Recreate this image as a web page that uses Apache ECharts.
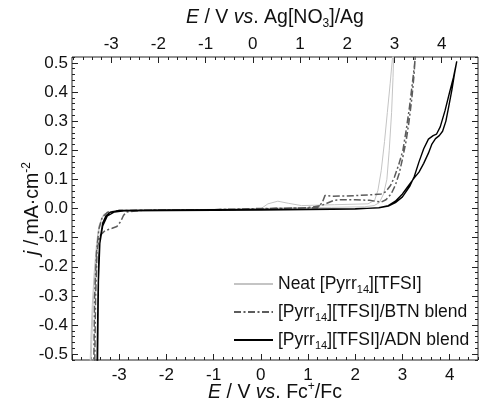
<!DOCTYPE html>
<html>
<head>
<meta charset="utf-8">
<script src="https://cdn.jsdelivr.net/npm/echarts@6/dist/echarts.min.js"></script>
<style>
html,body{margin:0;padding:0;background:#fff;}
#chart{width:481px;height:402px;}
</style>
</head>
<body>
<div id="chart"></div>
<script>
// ---------------- data ----------------
const seriesNames = ['Neat [Pyrr14][TFSI]', '[Pyrr14][TFSI]/BTN blend', '[Pyrr14][TFSI]/ADN blend'];

// Neat [Pyrr14][TFSI]  (E vs Fc+/Fc in V, j in mA/cm2)
const neatE = [-3.62,-3.60,-3.57,-3.53,-3.48,-3.43,-3.36,-3.25,-3.1,-2.5,-1.0,0.0,0.15,0.36,0.58,0.86,1.56,2.27,2.41,2.48,2.55,2.62,2.68,2.74,2.79,2.82,
  2.80,2.77,2.72,2.67,2.60,2.51,2.40,2.2,1.5,0.5,-0.5,-1.5,-2.5,-3.0,-3.2,-3.33,-3.38,-3.45,-3.5,-3.55,-3.58,-3.60];
const neatJ = [-0.55,-0.45,-0.33,-0.22,-0.12,-0.06,-0.03,-0.016,-0.01,-0.007,-0.005,-0.001,0.016,0.025,0.018,0.010,0.013,0.016,0.028,0.062,0.13,0.23,0.33,0.43,0.52,0.56,
  0.45,0.33,0.20,0.10,0.05,0.02,0.010,0.006,0.004,0.002,-0.002,-0.004,-0.006,-0.008,-0.012,-0.02,-0.04,-0.09,-0.18,-0.32,-0.45,-0.55];

// [Pyrr14][TFSI]/BTN blend
const btnE = [-3.54,-3.52,-3.48,-3.43,-3.36,-3.25,-3.0,-2.0,-1.0,0.0,1.0,1.2,1.3,1.36,1.5,1.8,2.1,2.4,2.55,2.65,2.75,2.83,2.92,3.01,3.08,3.15,3.21,3.26,3.28,
  3.24,3.20,3.14,3.08,3.00,2.93,2.85,2.76,2.65,2.55,2.30,2.00,1.70,1.55,1.40,1.28,1.0,0.0,-1.0,-2.5,-2.85,-2.91,-2.97,-3.05,-3.15,-3.30,-3.42,-3.47,-3.50,-3.52];
const btnJ = [-0.55,-0.30,-0.15,-0.07,-0.03,-0.013,-0.007,-0.005,-0.004,0.0,0.002,0.003,0.02,0.045,0.042,0.043,0.045,0.048,0.05,0.058,0.08,0.108,0.15,0.20,0.27,0.35,0.43,0.50,0.54,
  0.45,0.38,0.30,0.234,0.17,0.12,0.08,0.05,0.03,0.022,0.028,0.03,0.03,0.028,0.018,0.01,0.003,-0.002,-0.004,-0.006,-0.012,-0.024,-0.045,-0.062,-0.068,-0.076,-0.095,-0.15,-0.30,-0.55];

// [Pyrr14][TFSI]/ADN blend
const adnE = [-3.47,-3.45,-3.43,-3.40,-3.35,-3.28,-3.19,-3.0,-2.0,-1.0,0.0,1.0,2.0,2.5,2.7,2.85,3.0,3.15,3.25,3.35,3.45,3.55,3.65,3.72,3.80,3.90,4.00,4.08,4.15,
  4.10,4.05,3.98,3.92,3.85,3.78,3.70,3.62,3.55,3.45,3.35,3.25,3.10,3.00,2.85,2.70,2.50,2.0,1.0,0.0,-1.0,-2.0,-2.9,-3.1,-3.25,-3.35,-3.41,-3.44,-3.46];
const adnJ = [-0.55,-0.30,-0.16,-0.10,-0.05,-0.025,-0.013,-0.007,-0.005,-0.004,-0.003,-0.002,-0.001,0.002,0.008,0.02,0.04,0.075,0.11,0.16,0.205,0.238,0.25,0.255,0.28,0.335,0.40,0.45,0.505,
  0.46,0.41,0.35,0.30,0.265,0.25,0.24,0.22,0.19,0.155,0.125,0.105,0.072,0.05,0.025,0.01,0.003,-0.002,-0.004,-0.005,-0.006,-0.007,-0.008,-0.012,-0.025,-0.06,-0.12,-0.25,-0.55];

// tick labels
const bottomTicks = [-3,-2,-1,0,1,2,3,4];
const topTicks = [-3,-2,-1,0,1,2,3,4];
const leftTicks = [-0.5,-0.4,-0.3,-0.2,-0.1,0.0,0.1,0.2,0.3,0.4,0.5];

// ---------------- layout ----------------
const W = 481, H = 402;
const L = 72, R = 478, T = 57, B = 360;     // frame
const xMin = -4, xMax = 4.6;               // E vs Fc+/Fc
const yMin = -0.52, yMax = 0.52;
const agOffset = 0.17;                     // E(Ag) = E(Fc) + offset
const pxX = (R - L) / (xMax - xMin);
const pxY = (B - T) / (yMax - yMin);
const xPix = v => L + (v - xMin) * pxX;
const yPix = v => T + (yMax - v) * pxY;

const FONT = "'Liberation Sans', Arial, sans-serif";
const TXT = '#111';
const FS = 17;
const NFS = 19.5;

function pairs(xs, ys){ return xs.map((x,i)=>[x, ys[i]]); }
const near = (v, list) => list.some(t => Math.abs(t - v) < 1e-6);

const hidden = {axisLine:{show:false, onZero:false}, axisTick:{show:false}, axisLabel:{show:false}, splitLine:{show:false}};
const minorTick = {show:true, inside:true, length:3, lineStyle:{color:'#222', width:1}};
const majorTick = {show:true, inside:true, length:6, lineStyle:{color:'#222', width:1}};

// grid 0: data + frame + minor ticks
// grid 1: left/right major ticks
// grid 2: bottom major ticks
// grid 3: top minor ticks
// grid 4: top major ticks
const topMinorMin = -3.8, topMinorMax = 4.6;
const topMajorMin = -3, topMajorMax = 5;
const gbase = {outerBoundsMode:'none', containLabel:false};
const grids = [
  Object.assign({left:L, top:T, width:R-L, height:B-T, show:true, borderColor:'#222', borderWidth:1, backgroundColor:'transparent'}, gbase),
  Object.assign({left:L, top:yPix(0.5), width:R-L, height:yPix(-0.5)-yPix(0.5)}, gbase),
  Object.assign({left:L, top:T, width:xPix(5)-L, height:B-T}, gbase),
  Object.assign({left:xPix(topMinorMin-agOffset), top:T, width:xPix(topMinorMax-agOffset)-xPix(topMinorMin-agOffset), height:B-T}, gbase),
  Object.assign({left:xPix(topMajorMin-agOffset), top:T, width:xPix(topMajorMax-agOffset)-xPix(topMajorMin-agOffset), height:B-T}, gbase)
];

const richName = {
  i:{fontStyle:'italic', fontFamily:FONT, fontSize:NFS, color:TXT, lineHeight:24},
  n:{fontFamily:FONT, fontSize:NFS, color:TXT, lineHeight:24},
  sup:{fontFamily:FONT, fontSize:12, color:TXT, verticalAlign:'top', lineHeight:13},
  sub:{fontFamily:FONT, fontSize:12, color:TXT, verticalAlign:'bottom', lineHeight:13}
};

const xAxes = [
  Object.assign({}, hidden, {gridIndex:0, type:'value', position:'bottom', min:xMin, max:xMax, interval:0.2,
    axisTick:minorTick,
    name:'{i|E}{n| / V }{i|vs}{n|. Fc}{sup|+}{n|/Fc}', nameLocation:'middle', nameGap:21,
    nameTextStyle:{rich:richName, fontFamily:FONT, fontSize:NFS, color:TXT}}),
  Object.assign({}, hidden, {gridIndex:1, type:'value', min:xMin, max:xMax}),
  Object.assign({}, hidden, {gridIndex:2, type:'value', position:'bottom', min:xMin, max:5, interval:1,
    axisTick:majorTick,
    axisLabel:{show:true, margin:7, fontFamily:FONT, fontSize:FS, color:TXT,
      formatter:v => near(v, bottomTicks) ? String(Math.round(v)) : ''}}),
  Object.assign({}, hidden, {gridIndex:3, type:'value', position:'top', min:topMinorMin, max:topMinorMax, interval:0.2,
    axisTick:minorTick}),
  Object.assign({}, hidden, {gridIndex:4, type:'value', position:'top', min:topMajorMin, max:topMajorMax, interval:1,
    axisTick:majorTick,
    axisLabel:{show:true, margin:4, fontFamily:FONT, fontSize:FS, color:TXT,
      formatter:v => near(v, topTicks) ? String(Math.round(v)) : ''}}),
  Object.assign({}, hidden, {gridIndex:0, type:'value', position:'top', min:xMin, max:xMax,
    name:'{i|E}{n| / V }{i|vs}{n|. Ag[NO}{sub|3}{n|]/Ag}', nameLocation:'middle', nameGap:27,
    nameTextStyle:{rich:richName, fontFamily:FONT, fontSize:NFS, color:TXT}})
];

const yAxes = [
  Object.assign({}, hidden, {gridIndex:0, type:'value', position:'left', min:yMin, max:yMax, interval:0.02,
    axisTick:minorTick,
    name:'{i|j}{n| / mA·cm}{sup|-2}', nameLocation:'middle', nameGap:27, nameRotate:90,
    nameTextStyle:{rich:richName, fontFamily:FONT, fontSize:NFS, color:TXT}}),
  Object.assign({}, hidden, {gridIndex:0, type:'value', position:'right', min:yMin, max:yMax, interval:0.02,
    axisTick:minorTick}),
  Object.assign({}, hidden, {gridIndex:1, type:'value', position:'left', min:-0.5, max:0.5, interval:0.1,
    axisTick:majorTick,
    axisLabel:{show:true, margin:4, fontFamily:FONT, fontSize:FS, color:TXT,
      formatter:v => near(v, leftTicks) ? v.toFixed(1) : ''}}),
  Object.assign({}, hidden, {gridIndex:1, type:'value', position:'right', min:-0.5, max:0.5, interval:0.1,
    axisTick:majorTick}),
  Object.assign({}, hidden, {gridIndex:2, type:'value', min:yMin, max:yMax}),
  Object.assign({}, hidden, {gridIndex:3, type:'value', min:yMin, max:yMax}),
  Object.assign({}, hidden, {gridIndex:4, type:'value', min:yMin, max:yMax})
];

const styles = [
  {color:'#c4c4c4', width:1, type:'solid'},
  {color:'#5c5c5c', width:1.5, type:[7,2.5,2,2.5]},
  {color:'#000000', width:1.4, type:'solid'}
];
const dataSets = [pairs(neatE, neatJ), pairs(btnE, btnJ), pairs(adnE, adnJ)];

const series = seriesNames.map((name, i) => ({
  name, type:'line', xAxisIndex:0, yAxisIndex:0, data:dataSets[i],
  symbol:'none', showSymbol:false, clip:true, smooth:false,
  lineStyle:styles[i], itemStyle:{color:styles[i].color}, z:2+i
}));

const chart = echarts.init(document.getElementById('chart'), null, {renderer:'canvas', width:W, height:H});
chart.setOption({
  animation:false,
  backgroundColor:'#fff',
  grid:grids,
  xAxis:xAxes,
  yAxis:yAxes,
  legend:{
    data:seriesNames, orient:'vertical', left:233, top:273, padding:0, itemWidth:39, itemHeight:14, itemGap:6,
    itemStyle:{opacity:0},
    formatter:name => name.replace('Pyrr14', 'Pyrr{sub|14}'),
    textStyle:{fontFamily:FONT, fontSize:17.5, color:TXT, lineHeight:22,
      rich:{sub:{fontFamily:FONT, fontSize:11, color:TXT, verticalAlign:'bottom', lineHeight:12}}}
  },
  series
});
</script>
</body>
</html>
